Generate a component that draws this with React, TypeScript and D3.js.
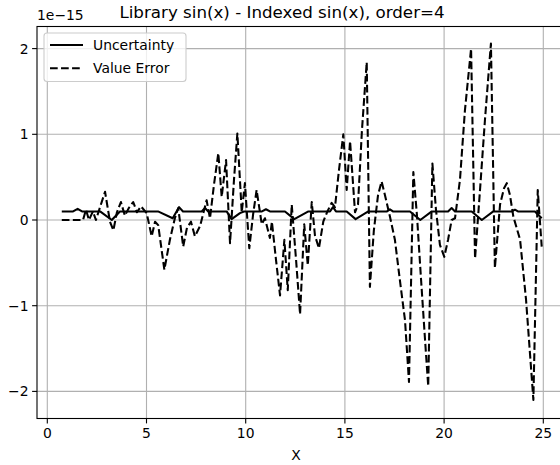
import React from "react";
import * as d3 from "d3";

// values in units of 1e-15
const uncX = [0.73, 1.3, 1.53, 1.75, 2.66, 3.25, 3.66, 5.58, 6.32, 6.64, 6.84, 7.78, 7.95, 8.1, 9.04, 9.29, 9.71, 9.91, 10.82, 11.02, 11.22, 11.98, 12.45, 13.16, 14.25, 14.4, 14.55, 15.09, 15.54, 16.18, 17.12, 17.27, 17.42, 18.28, 18.8, 19.38, 20.2, 20.38, 20.55, 21.39, 21.9, 22.48, 23.42, 23.57, 23.72, 24.58, 24.92];
const uncY = [0.1, 0.1, 0.13, 0.1, 0.1, 0.0, 0.1, 0.1, 0.02, 0.15, 0.1, 0.1, 0.14, 0.1, 0.1, 0.01, 0.08, 0.1, 0.1, 0.125, 0.1, 0.1, 0.01, 0.1, 0.1, 0.15, 0.1, 0.1, 0.01, 0.1, 0.1, 0.125, 0.1, 0.1, 0.0, 0.1, 0.1, 0.14, 0.1, 0.1, 0.0, 0.1, 0.1, 0.12, 0.1, 0.1, 0.02];

const errX = [0.73, 1.8, 1.95, 2.1, 2.3, 2.45, 2.91, 3.16, 3.33, 3.51, 3.71, 3.91, 4.11, 4.33, 4.52, 4.72, 5.01, 5.26, 5.43, 5.59, 5.9, 6.18, 6.43, 6.6, 6.85, 7.04, 7.24, 7.44, 7.7, 8.03, 8.2, 8.4, 8.62, 8.79, 9.01, 9.21, 9.41, 9.58, 9.8, 9.96, 10.18, 10.37, 10.55, 10.81, 10.97, 11.22, 11.32, 11.53, 11.73, 11.95, 12.12, 12.32, 12.54, 12.74, 12.95, 13.13, 13.33, 13.49, 13.69, 13.91, 14.1, 14.33, 14.5, 14.7, 14.92, 15.09, 15.26, 15.51, 15.66, 15.86, 16.1, 16.26, 16.46, 16.67, 16.85, 17.02, 17.27, 17.52, 17.77, 18.03, 18.23, 18.45, 18.63, 18.84, 19.04, 19.2, 19.41, 19.59, 19.79, 20.01, 20.2, 20.38, 20.55, 20.8, 21.05, 21.36, 21.56, 21.81, 22.06, 22.36, 22.56, 22.82, 23.02, 23.16, 23.32, 23.49, 23.83, 24.13, 24.5, 24.72, 24.92];
const errY = [0, 0, 0.12, 0, 0.1, 0, 0.33, -0.02, -0.12, 0.09, 0.21, 0.05, 0.14, 0.21, 0.09, 0.16, 0.08, -0.19, -0.02, -0.06, -0.58, -0.23, 0.02, 0.14, -0.31, -0.09, -0.02, -0.19, -0.07, 0.23, 0.02, 0.41, 0.78, 0.27, 0.7, -0.27, 0.47, 1.01, 0.09, 0.43, -0.33, 0.06, 0.35, -0.05, 0.02, -0.21, -0.02, -0.47, -0.88, -0.23, -0.82, 0.18, -0.47, -1.1, -0.05, -0.53, 0.21, -0.18, -0.33, -0.02, 0.09, 0.2, 0.15, 0.58, 1.0, 0.35, 0.92, 0.09, 0.18, 1.05, 1.84, -0.78, -0.12, 0.29, 0.45, 0.29, 0.04, -0.23, -0.7, -1.17, -1.89, 0.56, 0.06, -0.7, -1.4, -1.94, 0.66, 0.12, -0.29, -0.43, -0.23, 0, 0.02, 0.47, 1.28, 2.0, -0.45, 0.35, 1.17, 2.06, -0.56, 0.18, 0.37, 0.43, 0.29, 0.04, -0.23, -0.93, -2.1, 0.35, -0.31];

const xTicks = [0, 5, 10, 15, 20, 25];
const yTicks = [-2, -1, 0, 1, 2];
const seriesNames = ["Uncertainty", "Value Error"];
const titleText = "Library sin(x) - Indexed sin(x), order=4";
const xLabel = "X";
const offsetText = "1e\u221215";

export default function App() {
  const W = 560, H = 465;
  const left = 37, top = 26.5, bottom = 418.5, right = 566;
  const lw = 2.08;
  const dash = "7.7,3.33";
  const x = d3.scaleLinear().domain([0, 25]).range([47.3, 543.3]);
  const y = d3.scaleLinear().domain([-2, 2]).range([391.4, 48.6]);
  const gen = d3.line<[number, number]>().x((d) => x(d[0])).y((d) => y(d[1]));
  const unc = gen(uncX.map((v, i) => [v, uncY[i]] as [number, number]));
  const err = gen(errX.map((v, i) => [v, errY[i]] as [number, number]));
  const font = "'DejaVu Sans', sans-serif";
  const fmt = (v: number) => (v < 0 ? "\u2212" + Math.abs(v) : String(v));
  return (
    <svg width={W} height={H} style={{ position: "absolute", left: 0, top: 0, background: "#fff" }} fontFamily={font}>
      <rect x={0} y={0} width={W} height={H} fill="#fff" />
      <defs>
        <clipPath id="plot">
          <rect x={left} y={top} width={right - left} height={bottom - top} />
        </clipPath>
      </defs>
      {xTicks.map((t) => (
        <line key={"gx" + t} x1={x(t)} x2={x(t)} y1={top} y2={bottom} stroke="#b0b0b0" strokeWidth={1.1} />
      ))}
      {yTicks.map((t) => (
        <line key={"gy" + t} x1={left} x2={right} y1={y(t)} y2={y(t)} stroke="#b0b0b0" strokeWidth={1.1} />
      ))}
      <g clipPath="url(#plot)">
        <path d={unc ?? ""} fill="none" stroke="#000" strokeWidth={lw} strokeLinejoin="round" />
        <path d={err ?? ""} fill="none" stroke="#000" strokeWidth={lw} strokeDasharray={dash} strokeLinejoin="round" />
      </g>
      <rect x={left} y={top} width={right - left} height={bottom - top} fill="none" stroke="#000" strokeWidth={1.1} />
      {xTicks.map((t) => (
        <g key={"tx" + t}>
          <line x1={x(t)} x2={x(t)} y1={bottom} y2={bottom + 4.9} stroke="#000" strokeWidth={1.1} />
          <text x={x(t)} y={bottom + 19.5} textAnchor="middle" fontSize={13.9} fill="#000">{fmt(t)}</text>
        </g>
      ))}
      {yTicks.map((t) => (
        <g key={"ty" + t}>
          <line x1={left - 4.9} x2={left} y1={y(t)} y2={y(t)} stroke="#000" strokeWidth={1.1} />
          <text x={left - 8.5} y={y(t) + 5} textAnchor="end" fontSize={13.9} fill="#000">{fmt(t)}</text>
        </g>
      ))}
      <text x={left} y={20} fontSize={13.9} fill="#000">{offsetText}</text>
      <text x={282} y={18} textAnchor="middle" fontSize={16.7} fill="#000">{titleText}</text>
      <text x={296} y={460} textAnchor="middle" fontSize={13.9} fill="#000">{xLabel}</text>
      <g>
        <rect x={44} y={33} width={142} height={48.5} rx={3} fill="#fff" fillOpacity={0.8} stroke="#cccccc" strokeWidth={1.1} />
        <line x1={50} x2={83} y1={45} y2={45} stroke="#000" strokeWidth={lw} />
        <line x1={50} x2={83} y1={68.3} y2={68.3} stroke="#000" strokeWidth={lw} strokeDasharray={dash} />
        <text x={93} y={50} fontSize={13.9} fill="#000">{seriesNames[0]}</text>
        <text x={93} y={73.3} fontSize={13.9} fill="#000">{seriesNames[1]}</text>
      </g>
    </svg>
  );
}
